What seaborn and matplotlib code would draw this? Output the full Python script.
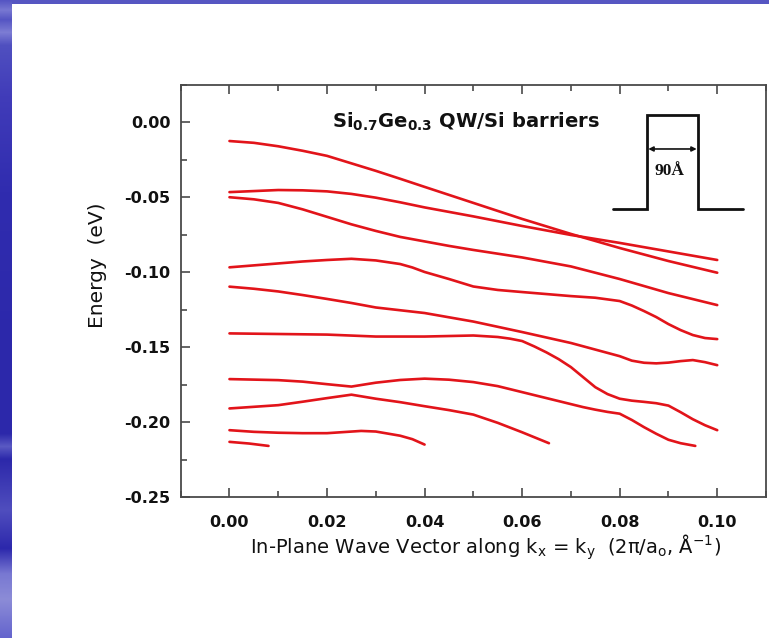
import numpy as np
import pandas as pd
import matplotlib
matplotlib.use("Agg")
import matplotlib.pyplot as plt
import seaborn as sns
from matplotlib.ticker import MultipleLocator, FormatStrFormatter
from matplotlib.patches import Rectangle

# ---------------- data ----------------
k_1 = [0.00, 0.005, 0.01, 0.015, 0.02, 0.025, 0.03, 0.035, 0.04, 0.05, 0.06, 0.07, 0.08, 0.09, 0.10]
E_1 = [-0.0124, -0.0136, -0.0159, -0.0189, -0.0223, -0.0273, -0.0323, -0.0376, -0.0430, -0.0537,
       -0.0644, -0.0744, -0.0838, -0.0925, -0.1003]

k_2 = [0.00, 0.005, 0.01, 0.015, 0.02, 0.025, 0.03, 0.035, 0.04, 0.05, 0.06, 0.07, 0.08, 0.09, 0.10]
E_2 = [-0.0465, -0.0458, -0.0451, -0.0453, -0.0460, -0.0477, -0.0502, -0.0533, -0.0567, -0.0627,
       -0.0691, -0.0751, -0.0804, -0.0861, -0.0918]

k_3 = [0.00, 0.005, 0.01, 0.015, 0.02, 0.025, 0.03, 0.035, 0.04, 0.045, 0.05, 0.06, 0.07, 0.08, 0.09, 0.10]
E_3 = [-0.0499, -0.0513, -0.0537, -0.0580, -0.0630, -0.0680, -0.0724, -0.0764, -0.0794, -0.0824,
       -0.0851, -0.0901, -0.0961, -0.1045, -0.1139, -0.1219]

k_4 = [0.00, 0.01, 0.015, 0.02, 0.025, 0.03, 0.035, 0.0375, 0.04, 0.045, 0.05, 0.055, 0.06, 0.07,
       0.075, 0.08, 0.0825, 0.085, 0.0875, 0.09, 0.0925, 0.095, 0.0975, 0.10]
E_4 = [-0.0967, -0.0941, -0.0928, -0.0918, -0.0910, -0.0921, -0.0945, -0.0968, -0.0998, -0.1045,
       -0.1095, -0.1118, -0.1132, -0.1159, -0.1170, -0.1192, -0.1222, -0.1259, -0.1299, -0.1346,
       -0.1386, -0.1419, -0.1439, -0.1446]

k_5 = [0.00, 0.005, 0.01, 0.015, 0.02, 0.025, 0.03, 0.04, 0.05, 0.06, 0.07, 0.08, 0.0825, 0.085,
       0.0875, 0.09, 0.0925, 0.095, 0.0975, 0.10]
E_5 = [-0.1096, -0.1110, -0.1128, -0.1152, -0.1178, -0.1205, -0.1235, -0.1272, -0.1329, -0.1399,
       -0.1472, -0.1560, -0.1590, -0.1604, -0.1608, -0.1603, -0.1593, -0.1586, -0.1600, -0.1620]

k_6 = [0.00, 0.01, 0.02, 0.03, 0.04, 0.05, 0.055, 0.0575, 0.06, 0.0625, 0.065, 0.0675, 0.07, 0.0725,
       0.075, 0.0775, 0.08, 0.0825, 0.085, 0.0875, 0.09, 0.0925, 0.095, 0.0975, 0.10]
E_6 = [-0.1408, -0.1412, -0.1416, -0.1429, -0.1429, -0.1422, -0.1432, -0.1443, -0.1459, -0.1495,
       -0.1535, -0.1580, -0.1633, -0.1700, -0.1767, -0.1813, -0.1844, -0.1857, -0.1865, -0.1874,
       -0.1890, -0.1934, -0.1981, -0.2021, -0.2054]

k_7 = [0.00, 0.01, 0.015, 0.02, 0.025, 0.03, 0.035, 0.04, 0.045, 0.05, 0.055, 0.06, 0.065, 0.07,
       0.0725, 0.075, 0.0775, 0.08, 0.0825, 0.085, 0.0875, 0.09, 0.0925, 0.0955]
E_7 = [-0.1713, -0.1720, -0.1730, -0.1747, -0.1763, -0.1737, -0.1719, -0.1710, -0.1717, -0.1733,
       -0.1760, -0.1800, -0.1840, -0.1880, -0.1900, -0.1917, -0.1932, -0.1944, -0.1986, -0.2034,
       -0.2078, -0.2118, -0.2141, -0.2159]

k_8 = [0.00, 0.01, 0.015, 0.02, 0.025, 0.03, 0.035, 0.04, 0.045, 0.05, 0.055, 0.06, 0.0655]
E_8 = [-0.1909, -0.1887, -0.1864, -0.1840, -0.1817, -0.1844, -0.1867, -0.1894, -0.1920, -0.1950,
       -0.2005, -0.2068, -0.2141]

k_9 = [0.00, 0.005, 0.01, 0.015, 0.02, 0.027, 0.03, 0.035, 0.0375, 0.04]
E_9 = [-0.2054, -0.2065, -0.2071, -0.2074, -0.2074, -0.2059, -0.2063, -0.2091, -0.2114, -0.2150]

k_10 = [0.00, 0.004, 0.008]
E_10 = [-0.2132, -0.2143, -0.2159]

x_ticks = [0.00, 0.02, 0.04, 0.06, 0.08, 0.10]
y_ticks = [0.00, -0.05, -0.10, -0.15, -0.20, -0.25]

title_text = r"Si$_{\mathbf{0.7}}$Ge$_{\mathbf{0.3}}$ QW/Si barriers"
x_label = (r"In-Plane Wave Vector along k$_\mathregular{x}$ = k$_\mathregular{y}$  "
           r"(2π/a$_\mathregular{o}$, Å$^\mathregular{-1}$)")
y_label = "Energy  (eV)"
well_label = "90Å"

curves = [(k_1, E_1), (k_2, E_2), (k_3, E_3), (k_4, E_4), (k_5, E_5),
          (k_6, E_6), (k_7, E_7), (k_8, E_8), (k_9, E_9), (k_10, E_10)]

# ---------------- style ----------------
sns.set_theme(style="white")
plt.rcParams["font.family"] = ["DejaVu Sans"]
plt.rcParams["mathtext.fontset"] = "dejavusans"
plt.rcParams["axes.unicode_minus"] = False

RED = "#e2141a"
SPINE = "#4a4a4a"

fig = plt.figure(figsize=(7.69, 6.38), dpi=100)
fig.patch.set_facecolor("white")

# blue slide border (decoration)
bax = fig.add_axes([0, 0, 12 / 769, 1])
stops_pos = [0.0, 0.015, 0.03, 0.05, 0.07, 0.15, 0.30, 0.55, 0.68, 0.70, 0.72, 0.80, 0.86, 0.90, 0.94, 1.0]
stops_col = np.array([[85, 85, 195], [120, 120, 210], [85, 85, 195], [125, 125, 212], [80, 80, 192],
                      [65, 60, 185], [48, 44, 175], [44, 40, 170], [44, 40, 170], [90, 90, 195],
                      [44, 40, 170], [80, 78, 190], [44, 40, 172], [120, 120, 210], [140, 140, 215],
                      [100, 100, 205]]) / 255.0
rows = np.linspace(0, 1, 638)
grad = np.stack([np.interp(rows, stops_pos, stops_col[:, c]) for c in range(3)], axis=1)
bax.imshow(grad[:, None, :], aspect="auto", extent=[0, 1, 0, 1])
bax.axis("off")
fig.add_artist(Rectangle((12 / 769, 1 - 4 / 638), 1, 4 / 638, transform=fig.transFigure,
                         facecolor="#5656c2", edgecolor="none"))

ax = fig.add_axes([180.7 / 769, (638 - 497) / 638, 585.3 / 769, 412 / 638])
ax.set_facecolor("white")

for k, e in curves:
    sns.lineplot(x=k, y=e, ax=ax, color=RED, linewidth=1.9, sort=False,
                 estimator=None, legend=False)

ax.set_xlim(-0.01, 0.11)
ax.set_ylim(-0.25, 0.025)
ax.set_xticks(x_ticks)
ax.set_yticks(y_ticks)
ax.xaxis.set_major_formatter(FormatStrFormatter("%.2f"))
ax.yaxis.set_major_formatter(FormatStrFormatter("%.2f"))
ax.xaxis.set_minor_locator(MultipleLocator(0.01))
ax.yaxis.set_minor_locator(MultipleLocator(0.025))

for s in ax.spines.values():
    s.set_visible(True)
    s.set_color(SPINE)
    s.set_linewidth(1.3)

ax.tick_params(which="both", direction="in", top=True, right=False, bottom=True, left=True,
               color=SPINE, width=1.2)
ax.tick_params(which="major", length=6.5)
ax.tick_params(which="minor", length=4)
ax.tick_params(axis="x", which="major", pad=13, labelsize=11.5)
ax.tick_params(axis="y", which="major", pad=7.5, labelsize=11.5)
for lab in ax.get_xticklabels() + ax.get_yticklabels():
    lab.set_fontweight("bold")
    lab.set_color("#111111")

ax.set_xlabel(x_label, fontsize=14, color="#111111")
ax.set_ylabel(y_label, fontsize=14.5, color="#111111")
ax.xaxis.set_label_coords(0.5216, -0.086)
ax.yaxis.set_label_coords(-0.126, 0.563)

ax.text(0.4866, 0.910, title_text, transform=ax.transAxes, ha="center", va="center",
        fontsize=14, fontweight="bold", color="#111111")

# quantum-well schematic (inset decoration, axes-fraction coordinates)
well_x = [0.7381, 0.7962, 0.7962, 0.8843, 0.8843, 0.9612]
well_y = [0.699, 0.699, 0.9272, 0.9272, 0.699, 0.699]
ax.plot(well_x, well_y, transform=ax.transAxes, color="#111111", lw=2.0,
        solid_joinstyle="miter", clip_on=False)
ax.annotate("", xy=(0.8816, 0.8447), xytext=(0.7989, 0.8447), xycoords="axes fraction",
            arrowprops=dict(arrowstyle="<|-|>", lw=1.2, color="#111111", shrinkA=0, shrinkB=0,
                            mutation_scale=7))
ax.text(0.8355, 0.7913, well_label, transform=ax.transAxes, ha="center", va="center",
        fontsize=12.5, fontweight="bold", family="Liberation Serif", color="#111111")

fig.savefig("out.png", dpi=100, facecolor="white")
